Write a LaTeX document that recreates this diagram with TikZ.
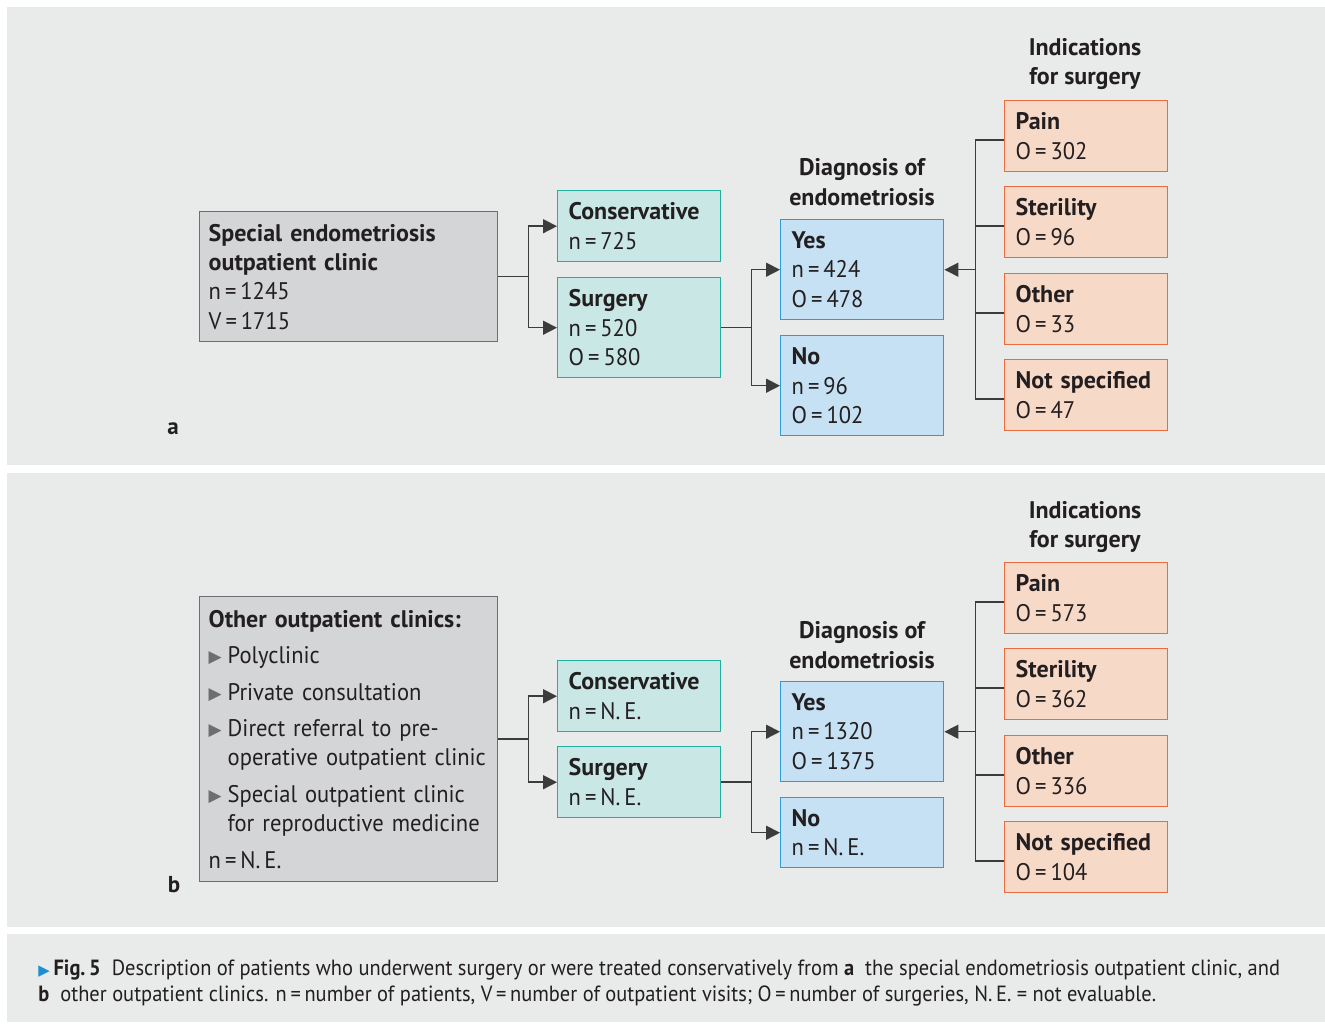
\documentclass[tikz,border=0pt]{standalone}
\usepackage{fontspec}
\setmainfont{PT Sans}[UprightFeatures={FakeStretch=0.94}]
\newfontfamily\symfont{DejaVu Sans}
\newfontfamily\capfont[FakeStretch=0.93]{PT Sans}
\usetikzlibrary{arrows.meta,calc,positioning}

% colours of the figure
\definecolor{panelbg}{HTML}{E9EBEB}
\definecolor{txt}{HTML}{231F20}
\definecolor{mainfill}{HTML}{D4D5D7}
\definecolor{mainline}{HTML}{6D6E71}
\definecolor{consfill}{HTML}{C9E7E5}
\definecolor{consline}{HTML}{1FB0A1}
\definecolor{diagfill}{HTML}{C6E1F4}
\definecolor{diagline}{HTML}{2B9CDA}
\definecolor{indfill}{HTML}{F7D9C8}
\definecolor{indline}{HTML}{E96B40}
\definecolor{linkgray}{HTML}{3C3C3C}
\definecolor{capblue}{HTML}{1E90D2}
\definecolor{bulgray}{HTML}{6D6E71}

% small helpers for the box texts
\newcommand{\bul}{\makebox[9.5pt][l]{\raisebox{0.5pt}{\symfont\fontsize{8.5}{8.5}\selectfont\textcolor{bulgray}{▶}}}}
\newcommand{\ind}{\hspace*{9.5pt}}
\newcommand{\eq}{\,=\,}

\tikzset{
  box/.style={draw, line width=0.7pt, anchor=north west, align=left,
    inner xsep=5.5pt, inner ysep=0pt, text width=70.5pt, text=txt,
    font=\fontsize{12}{14.7}\selectfont},
  mainbox/.style={box, fill=mainfill, draw=mainline, inner xsep=4.5pt, text width=140pt},
  consbox/.style={box, fill=consfill, draw=consline},
  diagbox/.style={box, fill=diagfill, draw=diagline},
  indbox/.style={box, fill=indfill, draw=indline},
  head/.style={align=center, text=txt, font=\fontsize{12}{14.7}\selectfont\bfseries},
  panlabel/.style={text=txt, font=\fontsize{11.5}{14}\selectfont\bfseries},
  link/.style={draw=linkgray, line width=0.75pt},
  arr/.style={link, -{Triangle[length=7pt,width=7pt]}},
  panel/.style={fill=panelbg, draw=none},
}

\begin{document}
\begin{tikzpicture}[x=0.5pt, y=-0.5pt]

    % Fix the page to the size of the figure
    \useasboundingbox (0,0) rectangle (1325,1025);

    % Backgrounds of the two panels and of the caption
    \fill[panel] (7,7) rectangle (1325,465);
    \fill[panel] (7,473) rectangle (1325,927);
    \fill[panel] (7,934) rectangle (1325,1022);

    % ---------------- Panel a ----------------
    \node[mainbox, minimum height=65pt] (main-a) at (199,211)
        {\textbf{Special endometriosis}\\\textbf{outpatient clinic}\\n\eq1245\\V\eq1715};

    \node[consbox, minimum height=35.5pt] (cons-a) at (557,190) {\textbf{Conservative}\\n\eq725};
    \node[consbox, minimum height=50pt] (surg-a) at (557,277) {\textbf{Surgery}\\n\eq520\\O\eq580};

    \node[head] (diag-a) at (862,182) {Diagnosis of\\endometriosis};
    \node[diagbox, minimum height=50pt] (yes-a) at (780,219) {\textbf{Yes}\\n\eq424\\O\eq478};
    \node[diagbox, minimum height=50pt] (no-a) at (780,335) {\textbf{No}\\n\eq96\\O\eq102};

    \node[head] (ind-a) at (1085,64) {Indications\\for surgery};
    \node[indbox, minimum height=35.5pt] (pain-a) at (1004,100) {\textbf{Pain}\\O\eq302};
    \node[indbox, minimum height=35.5pt] (ster-a) at (1004,186) {\textbf{Sterility}\\O\eq96};
    \node[indbox, minimum height=35.5pt] (oth-a) at (1004,273) {\textbf{Other}\\O\eq33};
    \node[indbox, minimum height=35.5pt] (nsp-a) at (1004,359) {\textbf{Not specified}\\O\eq47};

    \node[panlabel] (lab-a) at (173,429) {a};

    % Connectors of panel a
    \draw[link] (main-a.east) -- ++(30,0) coordinate (ja);
    \draw[arr] (ja) |- (cons-a.west);
    \draw[arr] (ja) |- (surg-a.west);

    \draw[link] (surg-a.east) -- ++(30,0) coordinate (sa);
    \draw[arr] (sa) |- (yes-a.west);
    \draw[arr] (sa) |- (no-a.west);

    \coordinate (ia) at ($(yes-a.east)+(31,0)$);
    \foreach \k in {pain,ster,oth,nsp}
        \draw[link] ([yshift=-2pt]\k-a.west) -| (ia);
    \draw[arr] (ia) -- (yes-a.east);

    % ---------------- Panel b ----------------
    \node[mainbox, minimum height=142.5pt] (main-b) at (199,596)
        {\textbf{Other outpatient clinics:}\\[3.5pt]
         \bul Polyclinic\\[3.5pt]
         \bul Private consultation\\[3.5pt]
         \bul Direct referral to pre-\\
         \ind\mbox{operative outpatient clinic}\\[3.5pt]
         \bul Special outpatient clinic\\
         \ind\mbox{for reproductive medicine}\\[3.5pt]
         n\eq N.\,E.};

    \node[consbox, minimum height=35.5pt] (cons-b) at (557,660) {\textbf{Conservative}\\n\eq N.\,E.};
    \node[consbox, minimum height=35.5pt] (surg-b) at (557,746) {\textbf{Surgery}\\n\eq N.\,E.};

    \node[head] (diag-b) at (862,645) {Diagnosis of\\endometriosis};
    \node[diagbox, minimum height=50pt] (yes-b) at (780,681) {\textbf{Yes}\\n\eq1320\\O\eq1375};
    \node[diagbox, minimum height=35pt] (no-b) at (780,797) {\textbf{No}\\n\eq N.\,E.};

    \node[head] (ind-b) at (1085,527) {Indications\\for surgery};
    \node[indbox, minimum height=35.5pt] (pain-b) at (1004,562) {\textbf{Pain}\\O\eq573};
    \node[indbox, minimum height=35.5pt] (ster-b) at (1004,648) {\textbf{Sterility}\\O\eq362};
    \node[indbox, minimum height=35.5pt] (oth-b) at (1004,735) {\textbf{Other}\\O\eq336};
    \node[indbox, minimum height=35.5pt] (nsp-b) at (1004,821) {\textbf{Not specified}\\O\eq104};

    \node[panlabel] (lab-b) at (174,885) {b};

    % Connectors of panel b
    \draw[link] (main-b.east) -- ++(30,0) coordinate (jb);
    \draw[arr] (jb) |- (cons-b.west);
    \draw[arr] (jb) |- (surg-b.west);

    \draw[link] (surg-b.east) -- ++(30,0) coordinate (sb);
    \draw[arr] (sb) |- (yes-b.west);
    \draw[arr] (sb) |- (no-b.west);

    \coordinate (ib) at ($(yes-b.east)+(31,0)$);
    \foreach \k in {pain,ster,oth,nsp}
        \draw[link] ([yshift=-2pt]\k-b.west) -| (ib);
    \draw[arr] (ib) -- (yes-b.east);

    % ---------------- Caption ----------------
    \node[anchor=west, align=left, text=txt, inner sep=0pt,
          font=\capfont\fontsize{11}{13}\selectfont] (caption) at (38,983)
        {{\symfont\fontsize{7.5}{6}\selectfont\textcolor{capblue}{▶}}\,\textbf{Fig.\,5}\enspace Description of patients who underwent surgery or were treated conservatively from \textbf{a}\enspace the special endometriosis outpatient clinic, and\\
         \textbf{b}\enspace other outpatient clinics. n\eq number of patients, V\eq number of outpatient visits; O\eq number of surgeries, N.\,E. = not evaluable.};

\end{tikzpicture}
\end{document}
